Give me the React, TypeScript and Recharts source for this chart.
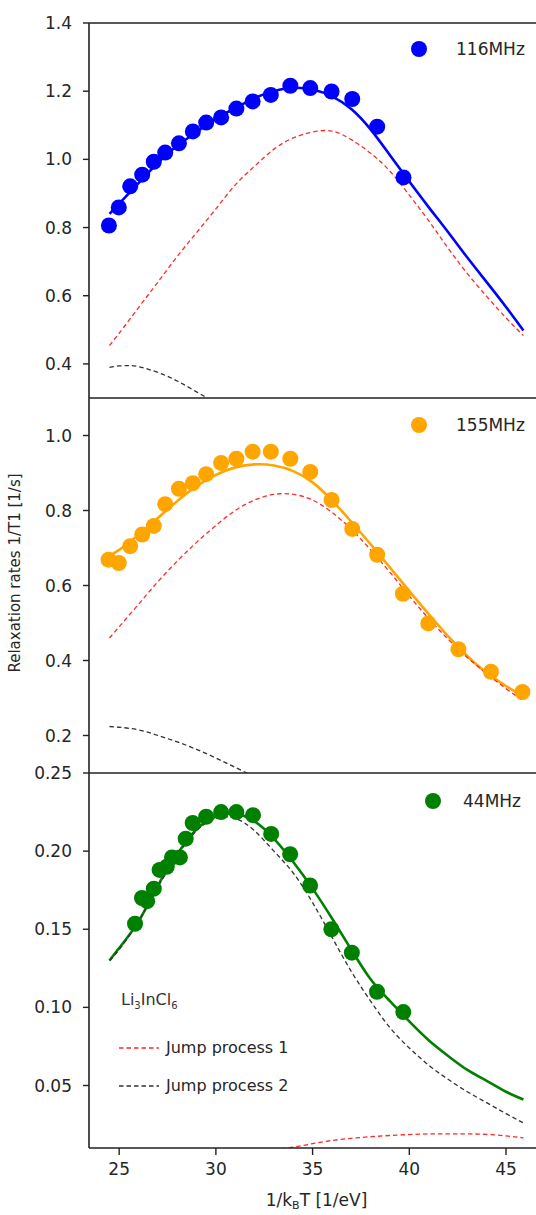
import { ComposedChart, Line, Scatter, XAxis, YAxis, ReferenceLine } from "recharts";

const FONT = "'DejaVu Sans', sans-serif";
const TEXT = "#262626";

// grid of 1/kT values the fitted curves are read at
const fitX = [24.5, 25, 26, 27, 28, 29, 30, 31, 32, 33, 34, 35, 36, 37, 38, 39, 40, 41, 42, 43, 44, 45, 45.9];

// 116 MHz
const x116 = [24.47, 24.98, 25.57, 26.19, 26.79, 27.38, 28.09, 28.81, 29.5, 30.27, 31.06, 31.9, 32.84, 33.85, 34.88, 35.98, 37.05, 38.34, 39.7];
const rate116 = [0.806, 0.859, 0.921, 0.955, 0.993, 1.02, 1.047, 1.082, 1.108, 1.123, 1.149, 1.17, 1.189, 1.216, 1.209, 1.199, 1.177, 1.096, 0.947];
const fit116 = [0.84, 0.87, 0.93, 0.99, 1.04, 1.08, 1.12, 1.15, 1.18, 1.2, 1.21, 1.205, 1.185, 1.148, 1.088, 1.012, 0.935, 0.86, 0.787, 0.712, 0.64, 0.567, 0.498];
const jump1At116 = [0.454, 0.49, 0.565, 0.64, 0.715, 0.785, 0.855, 0.925, 0.98, 1.03, 1.063, 1.08, 1.083, 1.058, 1.018, 0.965, 0.895, 0.82, 0.74, 0.665, 0.598, 0.535, 0.483];
const jump2X116 = [24.5, 25, 25.5, 26, 27, 28, 29, 30, 31];
const jump2At116 = [0.39, 0.394, 0.395, 0.392, 0.375, 0.35, 0.318, 0.285, 0.25];

// 155 MHz
const x155 = [24.45, 24.98, 25.57, 26.19, 26.79, 27.38, 28.09, 28.81, 29.5, 30.27, 31.06, 31.9, 32.84, 33.85, 34.88, 35.98, 37.05, 38.34, 39.67, 40.98, 42.54, 44.22, 45.85];
const rate155 = [0.669, 0.66, 0.705, 0.736, 0.759, 0.817, 0.858, 0.873, 0.897, 0.927, 0.938, 0.957, 0.957, 0.938, 0.903, 0.828, 0.751, 0.682, 0.578, 0.499, 0.43, 0.37, 0.316];
const fit155 = [0.68, 0.695, 0.735, 0.78, 0.825, 0.865, 0.895, 0.915, 0.923, 0.92, 0.905, 0.875, 0.827, 0.77, 0.71, 0.648, 0.585, 0.524, 0.465, 0.412, 0.367, 0.332, 0.305];
const jump1At155 = [0.46, 0.49, 0.55, 0.61, 0.665, 0.715, 0.76, 0.8, 0.828, 0.843, 0.843, 0.828, 0.795, 0.75, 0.695, 0.635, 0.572, 0.512, 0.457, 0.408, 0.365, 0.325, 0.292];
const jump2X155 = [24.5, 25, 26, 27, 28, 29, 30, 31, 32];
const jump2At155 = [0.224, 0.222, 0.215, 0.2, 0.183, 0.163, 0.14, 0.115, 0.09];

// 44 MHz
const x44 = [25.82, 26.18, 26.45, 26.79, 27.09, 27.46, 27.73, 28.14, 28.44, 28.8, 29.5, 30.27, 31.06, 31.92, 32.86, 33.84, 34.87, 35.97, 37.03, 38.33, 39.69];
const rate44 = [0.1535, 0.17, 0.168, 0.176, 0.188, 0.19, 0.196, 0.196, 0.208, 0.218, 0.222, 0.225, 0.225, 0.223, 0.211, 0.198, 0.178, 0.15, 0.135, 0.11, 0.097];
const fit44 = [0.13, 0.138, 0.155, 0.178, 0.198, 0.214, 0.222, 0.224, 0.219, 0.208, 0.193, 0.176, 0.157, 0.137, 0.118, 0.104, 0.091, 0.079, 0.069, 0.06, 0.053, 0.046, 0.041];
const jump1X44 = [33, 34, 35, 36, 37, 38, 39, 40, 41, 42, 43, 44, 45, 45.9];
const jump1At44 = [0.009, 0.0105, 0.0128, 0.0148, 0.0162, 0.0172, 0.018, 0.0186, 0.019, 0.019, 0.019, 0.0187, 0.0177, 0.0165];
const jump2At44 = [0.13, 0.137, 0.155, 0.177, 0.197, 0.213, 0.221, 0.221, 0.213, 0.2, 0.186, 0.167, 0.145, 0.123, 0.104, 0.087, 0.074, 0.063, 0.054, 0.046, 0.039, 0.032, 0.026];

const xTicks = [25, 30, 35, 40, 45];
const ticks116 = [0.4, 0.6, 0.8, 1.0, 1.2, 1.4];
const ticks155 = [0.2, 0.4, 0.6, 0.8, 1.0];
const ticks44 = [0.05, 0.1, 0.15, 0.2, 0.25];

const jumpLegend = [
  { name: "Jump process 1", color: "#ff2a2a" },
  { name: "Jump process 2", color: "#333333" },
];

const zip = (xs: number[], ys: number[]) => xs.map((x, i) => ({ x, y: ys[i] }));

const X_DOMAIN = [23.44, 46.55];
const SPINE = { stroke: "#222", strokeWidth: 1.6 };

interface PanelProps {
  name: string;
  color: string;
  points: { x: number; y: number }[];
  fit: { x: number; y: number }[];
  jump1: { x: number; y: number }[];
  jump2: { x: number; y: number }[];
  domain: number[];
  ticks: number[];
  digits: number;
  top: number;
  height: number;
  marginTop: number;
  marginBottom: number;
  bottomAxis?: boolean;
  topBorder?: boolean;
}

const xLabel = (props: any) => {
  const vb = props.viewBox || { x: 89, y: 385, width: 447 };
  return (
    <text
      x={vb.x + vb.width / 2 + 4}
      y={vb.y + 58}
      textAnchor="middle"
      fontSize={17}
      fill={TEXT}
      fontFamily={FONT}
    >
      1/k
      <tspan fontSize={11} dy={3}>B</tspan>
      <tspan dy={-3}>T [1/eV]</tspan>
    </text>
  );
};

const Panel = (p: PanelProps) => (
  <div style={{ position: "absolute", left: 0, top: p.top }}>
    <ComposedChart
      width={536}
      height={p.height}
      margin={{ top: p.marginTop, right: 0, bottom: p.marginBottom, left: 0 }}
    >
      <XAxis
        type="number"
        dataKey="x"
        domain={X_DOMAIN}
        allowDataOverflow
        ticks={xTicks}
        interval={0}
        height={p.bottomAxis ? 67 : 0}
        tick={p.bottomAxis ? { fontSize: 17, fill: TEXT, fontFamily: FONT } : false}
        tickLine={p.bottomAxis ? { stroke: "#222", strokeWidth: 1.4 } : false}
        tickSize={7}
        tickMargin={8}
        axisLine={SPINE}
        label={p.bottomAxis ? { content: xLabel } : undefined}
      />
      <YAxis
        type="number"
        dataKey="y"
        width={89}
        domain={p.domain}
        allowDataOverflow
        ticks={p.ticks}
        interval={0}
        tickFormatter={(v: number) => v.toFixed(p.digits)}
        tick={{ fontSize: 17, fill: TEXT, fontFamily: FONT }}
        tickLine={{ stroke: "#222", strokeWidth: 1.4 }}
        tickSize={6}
        tickMargin={11}
        axisLine={SPINE}
      />
      {p.topBorder && <ReferenceLine y={p.domain[1]} {...SPINE} />}
      {!p.bottomAxis && <ReferenceLine y={p.domain[0]} {...SPINE} />}
      <Scatter
        name={p.name}
        data={p.points}
        dataKey="y"
        fill={p.color}
        isAnimationActive={false}
        shape={(s: any) => <circle cx={s.cx} cy={s.cy} r={8} fill={p.color} />}
      />
      <Line
        data={p.fit}
        dataKey="y"
        type="natural"
        stroke={p.color}
        strokeWidth={2.6}
        dot={false}
        activeDot={false}
        isAnimationActive={false}
      />
      <Line
        data={p.jump1}
        dataKey="y"
        type="natural"
        stroke={jumpLegend[0].color}
        strokeWidth={1.3}
        strokeDasharray="4.5 3"
        dot={false}
        activeDot={false}
        isAnimationActive={false}
      />
      <Line
        data={p.jump2}
        dataKey="y"
        type="natural"
        stroke={jumpLegend[1].color}
        strokeWidth={1.3}
        strokeDasharray="4.5 3"
        dot={false}
        activeDot={false}
        isAnimationActive={false}
      />
    </ComposedChart>
  </div>
);

const DotLegend = ({ name, color, cx, cy, textX }: { name: string; color: string; cx: number; cy: number; textX: number }) => (
  <>
    <div
      style={{
        position: "absolute",
        left: cx - 8,
        top: cy - 8,
        width: 16,
        height: 16,
        borderRadius: 8,
        background: color,
      }}
    />
    <div
      style={{
        position: "absolute",
        left: textX,
        top: cy - 11,
        lineHeight: "22px",
        fontSize: 17,
        color: TEXT,
        fontFamily: FONT,
        whiteSpace: "nowrap",
      }}
    >
      {name}
    </div>
  </>
);

export default function App() {
  return (
    <div
      style={{
        position: "absolute",
        left: 0,
        top: 0,
        width: 536,
        height: 1215,
        background: "#fff",
        overflow: "hidden",
        fontFamily: FONT,
      }}
    >
      <Panel
        name="116MHz"
        color="#0000ff"
        points={zip(x116, rate116)}
        fit={zip(fitX, fit116)}
        jump1={zip(fitX, jump1At116)}
        jump2={zip(jump2X116, jump2At116)}
        domain={[0.3, 1.4]}
        ticks={ticks116}
        digits={1}
        top={0}
        height={400}
        marginTop={23}
        marginBottom={2}
        topBorder
      />
      <Panel
        name="155MHz"
        color="#ffa500"
        points={zip(x155, rate155)}
        fit={zip(fitX, fit155)}
        jump1={zip(fitX, jump1At155)}
        jump2={zip(jump2X155, jump2At155)}
        domain={[0.1, 1.1]}
        ticks={ticks155}
        digits={1}
        top={398}
        height={377}
        marginTop={0}
        marginBottom={2}
      />
      <Panel
        name="44MHz"
        color="#008000"
        points={zip(x44, rate44)}
        fit={zip(fitX, fit44)}
        jump1={zip(jump1X44, jump1At44)}
        jump2={zip(fitX, jump2At44)}
        domain={[0.01, 0.25]}
        ticks={ticks44}
        digits={2}
        top={763}
        height={452}
        marginTop={10}
        marginBottom={0}
        bottomAxis
      />

      <DotLegend name="116MHz" color="#0000ff" cx={419} cy={49} textX={456} />
      <DotLegend name="155MHz" color="#ffa500" cx={419} cy={425} textX={456} />
      <DotLegend name="44MHz" color="#008000" cx={433} cy={801} textX={463} />

      {/* compound label and jump-process legend in the lower panel */}
      <div
        style={{
          position: "absolute",
          left: 121,
          top: 989,
          lineHeight: "22px",
          fontSize: 16,
          color: "#333",
          whiteSpace: "nowrap",
        }}
      >
        Li<sub style={{ fontSize: 10 }}>3</sub>InCl<sub style={{ fontSize: 10 }}>6</sub>
      </div>
      {jumpLegend.map((j, i) => (
        <div key={j.name}>
          <svg
            width={42}
            height={4}
            style={{ position: "absolute", left: 118, top: 1046 + i * 38 }}
          >
            <line x1={1} y1={2} x2={41} y2={2} stroke={j.color} strokeWidth={1.3} strokeDasharray="4.5 3" />
          </svg>
          <div
            style={{
              position: "absolute",
              left: 166,
              top: 1037 + i * 38,
              lineHeight: "22px",
              fontSize: 16,
              color: TEXT,
              whiteSpace: "nowrap",
            }}
          >
            {j.name}
          </div>
        </div>
      ))}

      {/* y-axis title */}
      <svg width={26} height={280} style={{ position: "absolute", left: 0, top: 435 }}>
        <text
          x={20}
          y={138}
          transform="rotate(-90 20 138)"
          textAnchor="middle"
          fontSize={15}
          fill={TEXT}
          fontFamily={FONT}
        >
          Relaxation rates 1/T1 [1/s]
        </text>
      </svg>
    </div>
  );
}
